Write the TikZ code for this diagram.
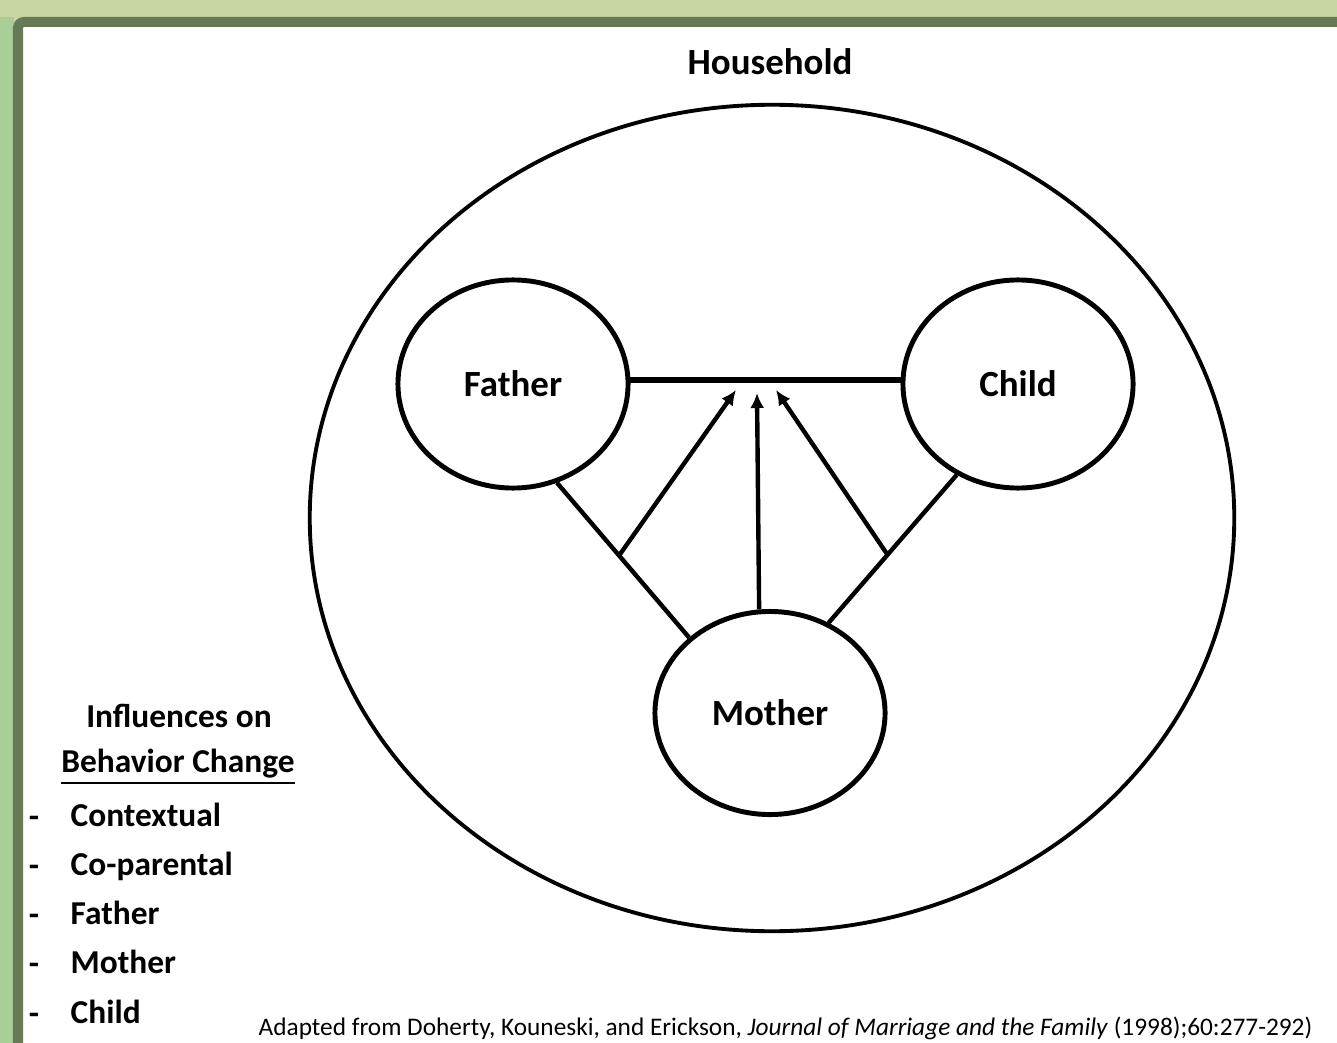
\documentclass[tikz,border=0pt]{standalone}
\usepackage{fontspec}
\setmainfont{Carlito}
\usetikzlibrary{shapes.geometric,arrows.meta}

\definecolor{topgreen}{HTML}{C8D6A2}
\definecolor{sidegreen}{HTML}{A9CE96}
\definecolor{framegreen}{HTML}{667A55}

\tikzset{
  person/.style={ellipse,draw,line width=1.4pt,minimum width=2.3cm,minimum height=2.08cm,
    font=\fontsize{10.5}{12}\selectfont\bfseries},
  link/.style={line width=1.25pt},
  influence/.style={line width=1.25pt,-{Latex[length=1.5mm,width=1.4mm]}},
  legend/.style={font=\fontsize{9.5}{11}\selectfont\bfseries,inner sep=0pt},
}

\begin{document}
\begin{tikzpicture}[x=0.01cm,y=-0.01cm]
  \useasboundingbox (0,0) rectangle (1337,1043);
  \fill[topgreen] (0,0) rectangle (1337,1043);
  \fill[sidegreen] (0,17) rectangle (14,1043);
  \fill[white] (18,22) rectangle (1337,1043);
  \draw[line width=0.1cm,framegreen,rounded corners=0.06cm] (18,1043) -- (18,22) -- (1337,22);

  \node[font=\fontsize{10.5}{12}\selectfont\bfseries] (title) at (770,62) {Household};
  \node[ellipse,draw,line width=1.1pt,minimum width=9.24cm,minimum height=8.26cm] (house) at (772,518) {};

  \node[person] (father) at (513,384) {Father};
  \node[person] (child) at (1018,384) {Child};
  \node[person,minimum height=2.03cm] (mother) at (770,713) {Mother};

  \draw[link,line width=1.6pt] (father.2) -- (child.178);
  \draw[link] (father.-66) -- coordinate[pos=0.47] (fm) (mother.137);
  \draw[link] (child.-124) -- coordinate[pos=0.54] (cm) (mother.57);

  \coordinate (tipl) at (736,390);
  \coordinate (tipm) at (757,393);
  \coordinate (tipr) at (776,390);
  \draw[influence] (fm) -- (tipl);
  \draw[influence] (mother.96) -- (tipm);
  \draw[influence] (cm) -- (tipr);

  \node[legend] (infl) at (179,716) {Influences on};
  \node[legend] (change) at (178,767) {\underline{Behavior Change}};
  \foreach \name [count=\i] in {Contextual,Co-parental,Father,Mother,Child} {
    \node[legend,anchor=base west] (item\i) at (70,{826+49.3*(\i-1)}) {\name};
    \node[legend,anchor=base] (dash\i) at (34,{827+49.3*(\i-1)}) {-};
  }

  \node[font=\fontsize{7.2}{8}\selectfont,anchor=base west,inner sep=0pt] (cite) at (258,1035)
    {Adapted from Doherty, Kouneski, and Erickson, \textit{Journal of Marriage and the Family} (1998);60:277-292)};
\end{tikzpicture}
\end{document}
